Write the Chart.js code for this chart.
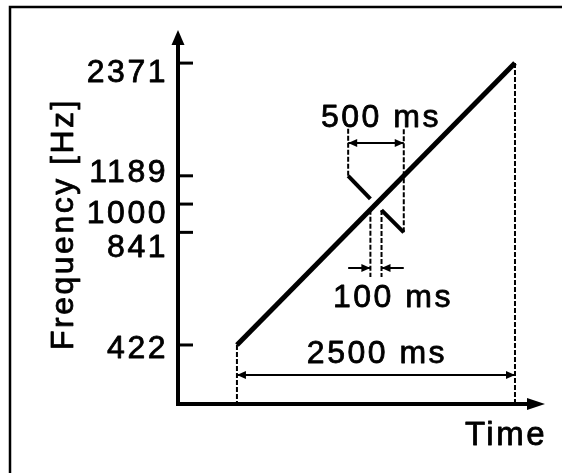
<!DOCTYPE html>
<html>
<head>
<meta charset="utf-8">
<script src="https://cdn.jsdelivr.net/npm/chart.js@4/dist/chart.umd.min.js"></script>
<style>
  html, body { margin: 0; padding: 0; background: #fff; }
  canvas { display: block; }
</style>
</head>
<body>
<canvas id="c" width="562" height="473"></canvas>
<script>
// Rising frequency sweep on a log-frequency axis, with a short falling glide
// (its middle part removed) centred on 1000 Hz.

const sweepTime = [0, 2500];            // ms
const sweepFreq = [422, 2371];          // Hz
const glideTime = [1000, 1200, 1300, 1500];
const glideFreq = [1189, 1032, 964, 841];

const yTickValues = [422, 841, 1000, 1189, 2371];
const yTickLabels = ['422', '841', '1000', '1189', '2371'];
const yTitle = 'Frequency [Hz]';
const xTitle = 'Time';

const timeRange = [-530, 2617];         // ms
const freqRange = [294, 2665];          // Hz

// dashed guide lines: time, start frequency, end frequency
const guideTime = [0, 2500, 1000, 1500, 1200, 1300];
const guideFrom = [422, 2371, 1189, 841, 966, 964];
const guideTo   = [294, 294, 1593, 1593, 640, 640];

// duration markers
const arrowFrom  = [0, 1000, 1000, 1500];
const arrowTo    = [2500, 1500, 1200, 1300];
const arrowFreq  = [351, 1453, 676, 676];
const arrowHeads = ['both', 'both', 'end', 'end'];
const spanLabels = ['2500 ms', '500 ms', '100 ms'];

const FONT = '"Liberation Sans", Arial, Helvetica, sans-serif';

function pts(ts, fs) { return ts.map((t, i) => ({ x: t, y: fs[i] })); }

const datasets = [];
guideTime.forEach((t, i) => datasets.push({
  label: 'guide ' + i,
  data: [{ x: t, y: guideFrom[i] }, { x: t, y: guideTo[i] }],
  borderColor: '#000', borderWidth: 2, borderDash: [5, 2]
}));
arrowFrom.forEach((t, i) => datasets.push({
  label: 'span ' + i,
  data: [{ x: t, y: arrowFreq[i] }, { x: arrowTo[i], y: arrowFreq[i] }],
  borderColor: '#000', borderWidth: 2, arrowHeads: arrowHeads[i]
}));
datasets.push({
  label: 'glide (start)',
  data: pts(glideTime.slice(0, 2), glideFreq.slice(0, 2)),
  borderColor: '#000', borderWidth: 4
});
datasets.push({
  label: 'glide (end)',
  data: pts(glideTime.slice(2), glideFreq.slice(2)),
  borderColor: '#000', borderWidth: 4
});
datasets.push({
  label: 'sweep',
  data: pts(sweepTime, sweepFreq),
  borderColor: '#000', borderWidth: 5
});

function head(ctx, tx, ty, dx, dy, len, wid) {
  const n = Math.hypot(dx, dy) || 1;
  dx /= n; dy /= n;
  const bx = tx - dx * len, by = ty - dy * len;
  ctx.beginPath();
  ctx.moveTo(tx, ty);
  ctx.lineTo(bx - dy * wid / 2, by + dx * wid / 2);
  ctx.lineTo(bx + dy * wid / 2, by - dx * wid / 2);
  ctx.closePath();
  ctx.fill();
}

function textStyle(ctx, px) {
  ctx.font = px + 'px ' + FONT;
  if ('letterSpacing' in ctx) ctx.letterSpacing = '2.5px';
  ctx.lineWidth = 0.8;
  ctx.lineJoin = 'round';
}

// filled and lightly outlined so the strokes read as heavy as the lines
function label(ctx, s, x, y) {
  ctx.fillText(s, x, y);
  ctx.strokeText(s, x, y);
}

const diagram = {
  id: 'diagram',
  beforeDatasetsDraw(chart) {
    const ctx = chart.ctx;
    ctx.save();
    ctx.strokeStyle = '#000';
    ctx.lineWidth = 2.5;
    ctx.beginPath();
    ctx.moveTo(10, chart.height);
    ctx.lineTo(10, 7);
    ctx.lineTo(chart.width, 7);
    ctx.stroke();
    ctx.restore();
  },
  afterDatasetsDraw(chart) {
    const { ctx, chartArea: a } = chart;
    const xs = chart.scales.x, ys = chart.scales.y;
    ctx.save();
    ctx.fillStyle = '#000';
    ctx.strokeStyle = '#000';

    // axes with arrowheads
    ctx.lineWidth = 4;
    ctx.beginPath();
    ctx.moveTo(a.left, a.bottom + 2);
    ctx.lineTo(a.left, a.top);
    ctx.moveTo(a.left - 2, a.bottom);
    ctx.lineTo(a.right, a.bottom);
    ctx.stroke();
    head(ctx, a.left, a.top - 14, 0, -1, 15, 13);
    head(ctx, a.right + 17, a.bottom, 1, 0, 18, 12);

    // inward tick marks
    ctx.lineWidth = 3;
    yTickValues.forEach(v => {
      const py = ys.getPixelForValue(v);
      ctx.beginPath();
      ctx.moveTo(a.left, py);
      ctx.lineTo(a.left + 15, py);
      ctx.stroke();
    });

    // arrowheads on the duration markers
    chart.data.datasets.forEach((ds, i) => {
      if (!ds.arrowHeads) return;
      const p = chart.getDatasetMeta(i).data;
      const p0 = p[0], p1 = p[p.length - 1];
      head(ctx, p1.x, p1.y, p1.x - p0.x, p1.y - p0.y, 9, 8);
      if (ds.arrowHeads === 'both') head(ctx, p0.x, p0.y, p0.x - p1.x, p0.y - p1.y, 9, 8);
    });

    // tick labels (staggered so the close values stay readable)
    const labelDrop = [13, 25, 19, 6, 19];
    textStyle(ctx, 32);
    ctx.textAlign = 'right';
    ctx.textBaseline = 'alphabetic';
    yTickValues.forEach((v, i) => {
      label(ctx, yTickLabels[i], a.left - 10, ys.getPixelForValue(v) + labelDrop[i]);
    });

    // axis titles
    ctx.save();
    ctx.translate(73, 224);
    ctx.rotate(-Math.PI / 2);
    ctx.textAlign = 'center';
    label(ctx, yTitle, 0, 0);
    ctx.restore();
    textStyle(ctx, 33);
    ctx.textAlign = 'right';
    label(ctx, xTitle, a.right + 19, a.bottom + 41);

    // duration labels
    textStyle(ctx, 32);
    ctx.textAlign = 'center';
    const mid = (t0, t1) => xs.getPixelForValue((t0 + t1) / 2);
    label(ctx, spanLabels[0], mid(arrowFrom[0], arrowTo[0]) + 1,
          ys.getPixelForValue(arrowFreq[0]) - 12);
    label(ctx, spanLabels[1], mid(arrowFrom[1], arrowTo[1]) + 5,
          ys.getPixelForValue(arrowFreq[1]) - 16);
    label(ctx, spanLabels[2], mid(arrowFrom[2], arrowFrom[3]) + 17,
          ys.getPixelForValue(arrowFreq[2]) + 39);
    ctx.restore();
  }
};

new Chart(document.getElementById('c'), {
  type: 'line',
  data: { datasets },
  options: {
    responsive: false,
    animation: false,
    devicePixelRatio: 1,
    layout: { padding: { left: 178, top: 44, right: 34, bottom: 69 } },
    plugins: { legend: { display: false }, tooltip: { enabled: false } },
    elements: {
      point: { radius: 0, hoverRadius: 0 },
      line: { tension: 0, borderCapStyle: 'butt', fill: false }
    },
    scales: {
      x: { type: 'linear', min: timeRange[0], max: timeRange[1], bounds: 'data', display: false },
      y: { type: 'logarithmic', min: freqRange[0], max: freqRange[1], bounds: 'data', display: false }
    }
  },
  plugins: [diagram]
});
</script>
</body>
</html>
